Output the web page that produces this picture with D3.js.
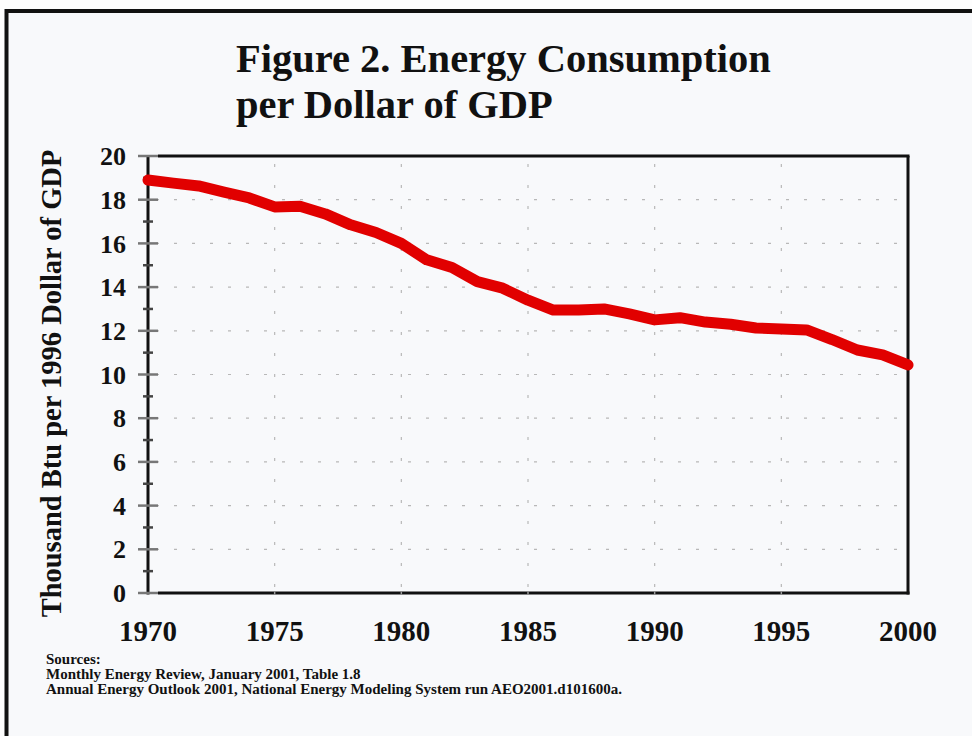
<!DOCTYPE html>
<html><head><meta charset="utf-8">
<script src="https://cdn.jsdelivr.net/npm/d3@7"></script>
<style>html,body{margin:0;padding:0;background:#fdfdfd;}svg{display:block;}</style>
</head><body>
<svg id="c" width="972" height="736"></svg>
<script>
const years = [1970,1971,1972,1973,1974,1975,1976,1977,1978,1979,1980,1981,1982,1983,1984,1985,1986,1987,1988,1989,1990,1991,1992,1993,1994,1995,1996,1997,1998,1999,2000];
const values = [18.9,18.76,18.63,18.35,18.08,17.67,17.7,17.35,16.85,16.5,16.0,15.25,14.9,14.25,13.95,13.4,12.95,12.95,13.0,12.77,12.5,12.6,12.4,12.3,12.13,12.08,12.04,11.6,11.12,10.9,10.44];
const xTicks = [1970,1975,1980,1985,1990,1995,2000];
const yTicks = [0,2,4,6,8,10,12,14,16,18,20];
const yMinor = [1,3,5,7,9,11,13,15,17,19];
const titleLines = ["Figure 2. Energy Consumption","per Dollar of GDP"];
const yTitle = "Thousand Btu per 1996 Dollar of GDP";
const sources = ["Sources:","Monthly Energy Review, January 2001, Table 1.8","Annual Energy Outlook 2001, National Energy Modeling System run AEO2001.d101600a."];

const svg = d3.select("#c");
const font = "'Liberation Serif','Times New Roman',serif";
svg.append("rect").attr("x",0).attr("y",0).attr("width",972).attr("height",736).attr("fill","#fdfdfd");
svg.append("rect").attr("x",6.5).attr("y",11).attr("width",1100).attr("height",1100)
  .attr("fill","#f8f9fb").attr("stroke","#111").attr("stroke-width",4);

const L=148,R=908,T=156,B=593;
const x = d3.scaleLinear().domain([1970,2000]).range([L,R]);
const y = d3.scaleLinear().domain([0,20]).range([B,T]);

// grid
const g = svg.append("g");
g.selectAll(".hg").data(yTicks.filter(d=>d>0&&d<20)).join("line")
  .attr("x1",L+8).attr("x2",R).attr("y1",d=>y(d)).attr("y2",d=>y(d))
  .attr("stroke","#b8b8b8").attr("stroke-width",1.2).attr("stroke-dasharray","3,15");
g.selectAll(".vg").data(xTicks.filter(d=>d>1970&&d<2000)).join("line")
  .attr("x1",d=>x(d)).attr("x2",d=>x(d)).attr("y1",T+8).attr("y2",B)
  .attr("stroke","#b8b8b8").attr("stroke-width",1.2).attr("stroke-dasharray","3,18");

// frame top/right
svg.append("line").attr("x1",L+10).attr("x2",R+1.5).attr("y1",T).attr("y2",T).attr("stroke","#111").attr("stroke-width",3);
svg.append("line").attr("x1",R).attr("x2",R).attr("y1",T).attr("y2",B+1.5).attr("stroke","#111").attr("stroke-width",3);
// bottom axis
svg.append("line").attr("x1",L+10).attr("x2",R+1.5).attr("y1",B).attr("y2",B).attr("stroke","#111").attr("stroke-width",3);
// left axis
svg.append("line").attr("x1",L).attr("x2",L).attr("y1",T).attr("y2",B+1.5).attr("stroke","#111").attr("stroke-width",3);
// y ticks
svg.selectAll(".ymaj").data(yTicks).join("line")
  .attr("x1",L-10).attr("x2",L+10).attr("y1",d=>y(d)).attr("y2",d=>y(d))
  .attr("stroke","#777").attr("stroke-width",2.5);
svg.selectAll(".ymin").data(yMinor).join("line")
  .attr("x1",L-5).attr("x2",L+5).attr("y1",d=>y(d)).attr("y2",d=>y(d))
  .attr("stroke","#444").attr("stroke-width",2.5);
// x tick marks (small gaps)
svg.selectAll(".xt").data(xTicks.filter(d=>d>1970&&d<2000)).join("line")
  .attr("x1",d=>x(d)).attr("x2",d=>x(d)).attr("y1",B-1.5).attr("y2",B+1.5)
  .attr("stroke","#999").attr("stroke-width",1.5);

// y labels
svg.selectAll(".yl").data(yTicks).join("text")
  .attr("x",L-22).attr("y",d=>y(d)).attr("dy","0.35em").attr("text-anchor","end")
  .attr("font-family",font).attr("font-weight","bold").attr("font-size",26).attr("fill","#111")
  .text(d=>d);
// x labels
svg.selectAll(".xl").data(xTicks).join("text")
  .attr("x",d=>x(d)).attr("y",641).attr("text-anchor","middle")
  .attr("font-family",font).attr("font-weight","bold").attr("font-size",29).attr("fill","#111")
  .text(d=>d);

// line
const line = d3.line().x((d,i)=>x(years[i])).y(d=>y(d));
svg.append("path").datum(values).attr("d",line).attr("fill","none")
  .attr("stroke","#e10000").attr("stroke-width",11).attr("stroke-linejoin","round").attr("stroke-linecap","round");

// title
svg.selectAll(".tt").data(titleLines).join("text")
  .attr("x",236).attr("y",(d,i)=>72+i*46)
  .attr("font-family",font).attr("font-weight","bold").attr("font-size",40.5).attr("fill","#111")
  .text(d=>d);
// y title
svg.append("text").attr("transform",`translate(61,${(152+615)/2}) rotate(-90)`)
  .attr("text-anchor","middle").attr("font-family",font).attr("font-weight","bold").attr("font-size",28.5).attr("fill","#111")
  .text(yTitle);
// sources
svg.selectAll(".src").data(sources).join("text")
  .attr("x",46).attr("y",(d,i)=>664+i*15)
  .attr("font-family",font).attr("font-weight","bold").attr("font-size",15).attr("fill","#111")
  .text(d=>d);
</script>
</body></html>
